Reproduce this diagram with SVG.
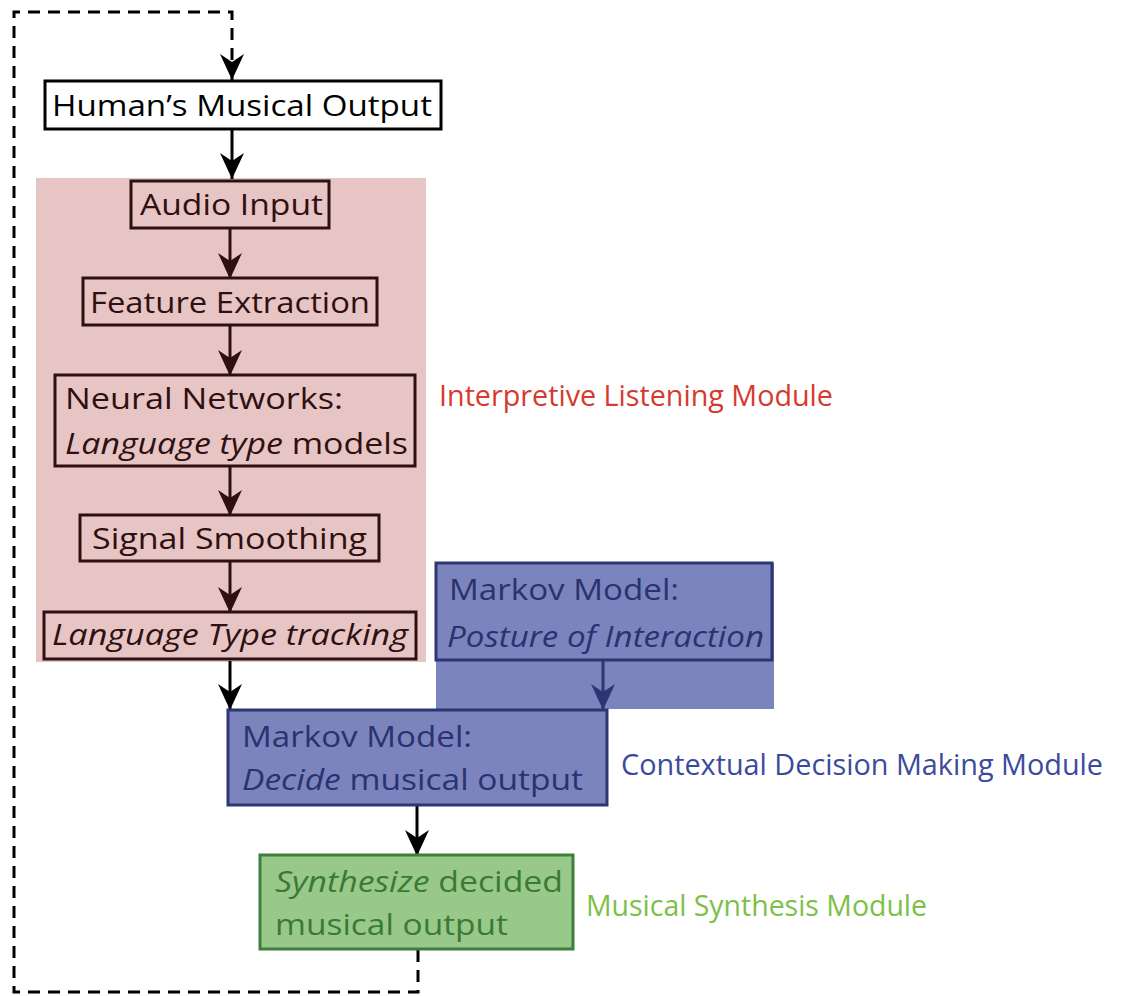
<svg xmlns="http://www.w3.org/2000/svg" width="1125" height="996" viewBox="0 0 1125 996">
<style>
text{font-family:"Open Sans","Noto Sans","Liberation Sans",sans-serif;font-size:30px}
.it{font-style:italic}
.box{stroke-width:3}
.pk{fill:none;stroke:#2e1010}
.pt{fill:#2e1010}
.bl{fill:#7b84bd;stroke:#2e3570}
.bt{fill:#2b3270}
.gr{fill:#98c98a;stroke:#3f7f3b}
.gt{fill:#3b7a35}
.ln{fill:none;stroke-width:3}
</style>
<defs>
<marker id="ak" markerUnits="userSpaceOnUse" markerWidth="26" markerHeight="24" refX="26" refY="12" orient="auto" viewBox="0 0 26 24"><path d="M0,0 L26,12 L0,24 L8,12 Z" fill="#000"/></marker>
<marker id="ap" markerUnits="userSpaceOnUse" markerWidth="26" markerHeight="24" refX="26" refY="12" orient="auto" viewBox="0 0 26 24"><path d="M0,0 L26,12 L0,24 L8,12 Z" fill="#2e1010"/></marker>
<marker id="ab" markerUnits="userSpaceOnUse" markerWidth="26" markerHeight="24" refX="26" refY="12" orient="auto" viewBox="0 0 26 24"><path d="M0,0 L26,12 L0,24 L8,12 Z" fill="#2e3570"/></marker>
</defs>
<rect width="1125" height="996" fill="#fff"/>
<g id="panels">
<rect x="36" y="178" width="390" height="484" fill="#e8c5c5"/>
<rect x="436" y="563" width="338" height="146" fill="#7b84bd"/>
</g>
<g id="connectors">
<path class="ln" d="M418,950 V992 H14 V12 H232 V80" stroke="#000" stroke-dasharray="12,8" marker-end="url(#ak)"/>
<path class="ln" d="M232,129 V179" stroke="#000" marker-end="url(#ak)"/>
<path class="ln" d="M230,228 V279" stroke="#2e1010" marker-end="url(#ap)"/>
<path class="ln" d="M230,325 V376" stroke="#2e1010" marker-end="url(#ap)"/>
<path class="ln" d="M230,466 V516" stroke="#2e1010" marker-end="url(#ap)"/>
<path class="ln" d="M230,561 V613" stroke="#2e1010" marker-end="url(#ap)"/>
<path class="ln" d="M230,661 V710" stroke="#000" marker-end="url(#ak)"/>
<path class="ln" d="M603,660 V710" stroke="#2e3570" marker-end="url(#ab)"/>
<path class="ln" d="M417,805 V856" stroke="#000" marker-end="url(#ak)"/>
</g>
<g id="human">
<rect class="box" x="45" y="81" width="396" height="48" fill="#fff" stroke="#000"/>
<text x="52" y="116" textLength="380" lengthAdjust="spacingAndGlyphs">Human’s Musical Output</text>
</g>
<g id="audio">
<rect class="box pk" x="131" y="181" width="198" height="47"/>
<text class="pt" x="140" y="215" textLength="183" lengthAdjust="spacingAndGlyphs">Audio Input</text>
</g>
<g id="feature">
<rect class="box pk" x="83" y="278" width="294" height="47"/>
<text class="pt" x="90" y="313" textLength="280" lengthAdjust="spacingAndGlyphs">Feature Extraction</text>
</g>
<g id="neural">
<rect class="box pk" x="55" y="375" width="360" height="91"/>
<text class="pt" x="65" y="409" textLength="278" lengthAdjust="spacingAndGlyphs">Neural Networks:</text>
<text class="pt" x="65" y="454" textLength="343" lengthAdjust="spacingAndGlyphs"><tspan class="it">Language type</tspan> models</text>
</g>
<g id="smoothing">
<rect class="box pk" x="80" y="515" width="299" height="46"/>
<text class="pt" x="92" y="549" textLength="275" lengthAdjust="spacingAndGlyphs">Signal Smoothing</text>
</g>
<g id="tracking">
<rect class="box pk" x="44" y="612" width="372" height="47"/>
<text class="pt it" x="52" y="645" textLength="356" lengthAdjust="spacingAndGlyphs">Language Type tracking</text>
</g>
<g id="posture">
<rect class="box bl" x="436" y="563" width="336" height="97"/>
<text class="bt" x="449" y="600" textLength="230" lengthAdjust="spacingAndGlyphs">Markov Model:</text>
<text class="bt it" x="447" y="647" textLength="317" lengthAdjust="spacingAndGlyphs">Posture of Interaction</text>
</g>
<g id="decide">
<rect class="box bl" x="228" y="710" width="379" height="95"/>
<text class="bt" x="242" y="747" textLength="230" lengthAdjust="spacingAndGlyphs">Markov Model:</text>
<text class="bt" x="242" y="790" textLength="341" lengthAdjust="spacingAndGlyphs"><tspan class="it">Decide</tspan> musical output</text>
</g>
<g id="synth">
<rect class="box gr" x="260" y="855" width="313" height="94"/>
<text class="gt" x="275" y="892" textLength="288" lengthAdjust="spacingAndGlyphs"><tspan class="it">Synthesize</tspan> decided</text>
<text class="gt" x="275" y="935" textLength="233" lengthAdjust="spacingAndGlyphs">musical output</text>
</g>
<g id="labels">
<text x="439" y="406" fill="#d63a2f" font-size="28" textLength="394" lengthAdjust="spacingAndGlyphs">Interpretive Listening Module</text>
<text x="621" y="775" fill="#3c4a9c" font-size="26" textLength="482" lengthAdjust="spacingAndGlyphs">Contextual Decision Making Module</text>
<text x="586" y="916" fill="#7cc04a" font-size="28" textLength="341" lengthAdjust="spacingAndGlyphs">Musical Synthesis Module</text>
</g>
</svg>
